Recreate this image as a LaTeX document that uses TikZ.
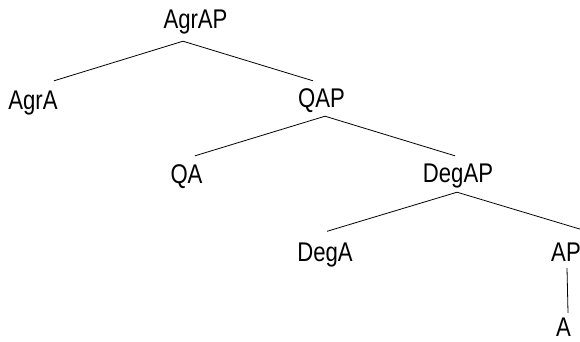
\documentclass[tikz,border=0pt]{standalone}
\usepackage{fontspec}
\setmainfont{Liberation Sans}[FakeStretch=0.82]
\usepackage{tikz}
\usetikzlibrary{positioning}
\tikzset{cat/.style = {draw=none, inner sep = 0, anchor = base, text height = 19.5pt, text depth = 0pt, font = \fontsize{27}{30}\selectfont}}
\tikzstyle{br} = [-, line width = 0.8pt]

\begin{document}
\begin{tikzpicture}[x=1pt, y=-1pt]
\useasboundingbox (0,0) rectangle (580,341);
\node [cat] (AgrAP) at (195.5, 28) {AgrAP};
\node [cat] (AgrA) at (33, 109) {AgrA};
\node [cat] (QAP) at (321.5, 107) {QAP};
\node [cat] (QA) at (186.5, 183) {QA};
\node [cat] (DegAP) at (458, 182) {DegAP};
\node [cat] (DegA) at (325, 261.5) {DegA};
\node [cat] (AP) at (566, 261.5) {AP};
\node [cat] (A) at (563.5, 336.5) {A};
%\node [cat] at (290, 10) {AgrAP};
\draw [br] ([shift={(-12.5,13)}]AgrAP.south) to ([shift={(21,-8.5)}]AgrA.north);
\draw [br] ([shift={(-12.5,13)}]AgrAP.south) to ([shift={(-8.5,-6.5)}]QAP.north);
\draw [br] ([shift={(3.5,9)}]QAP.south) to ([shift={(8.5,-7.5)}]QA.north);
\draw [br] ([shift={(3.5,9)}]QAP.south) to ([shift={(-3,-6.5)}]DegAP.north);
\draw [br] ([shift={(-1,10)}]DegAP.south) to ([shift={(2,-10.5)}]DegA.north);
\draw [br] ([shift={(-1,10)}]DegAP.south) to ([shift={(14,-12.7)}]AP.north);
\draw [br] ([shift={(1,6.5)}]AP.south) to ([shift={(4.5,-4)}]A.north);
\end{tikzpicture}
\end{document}
